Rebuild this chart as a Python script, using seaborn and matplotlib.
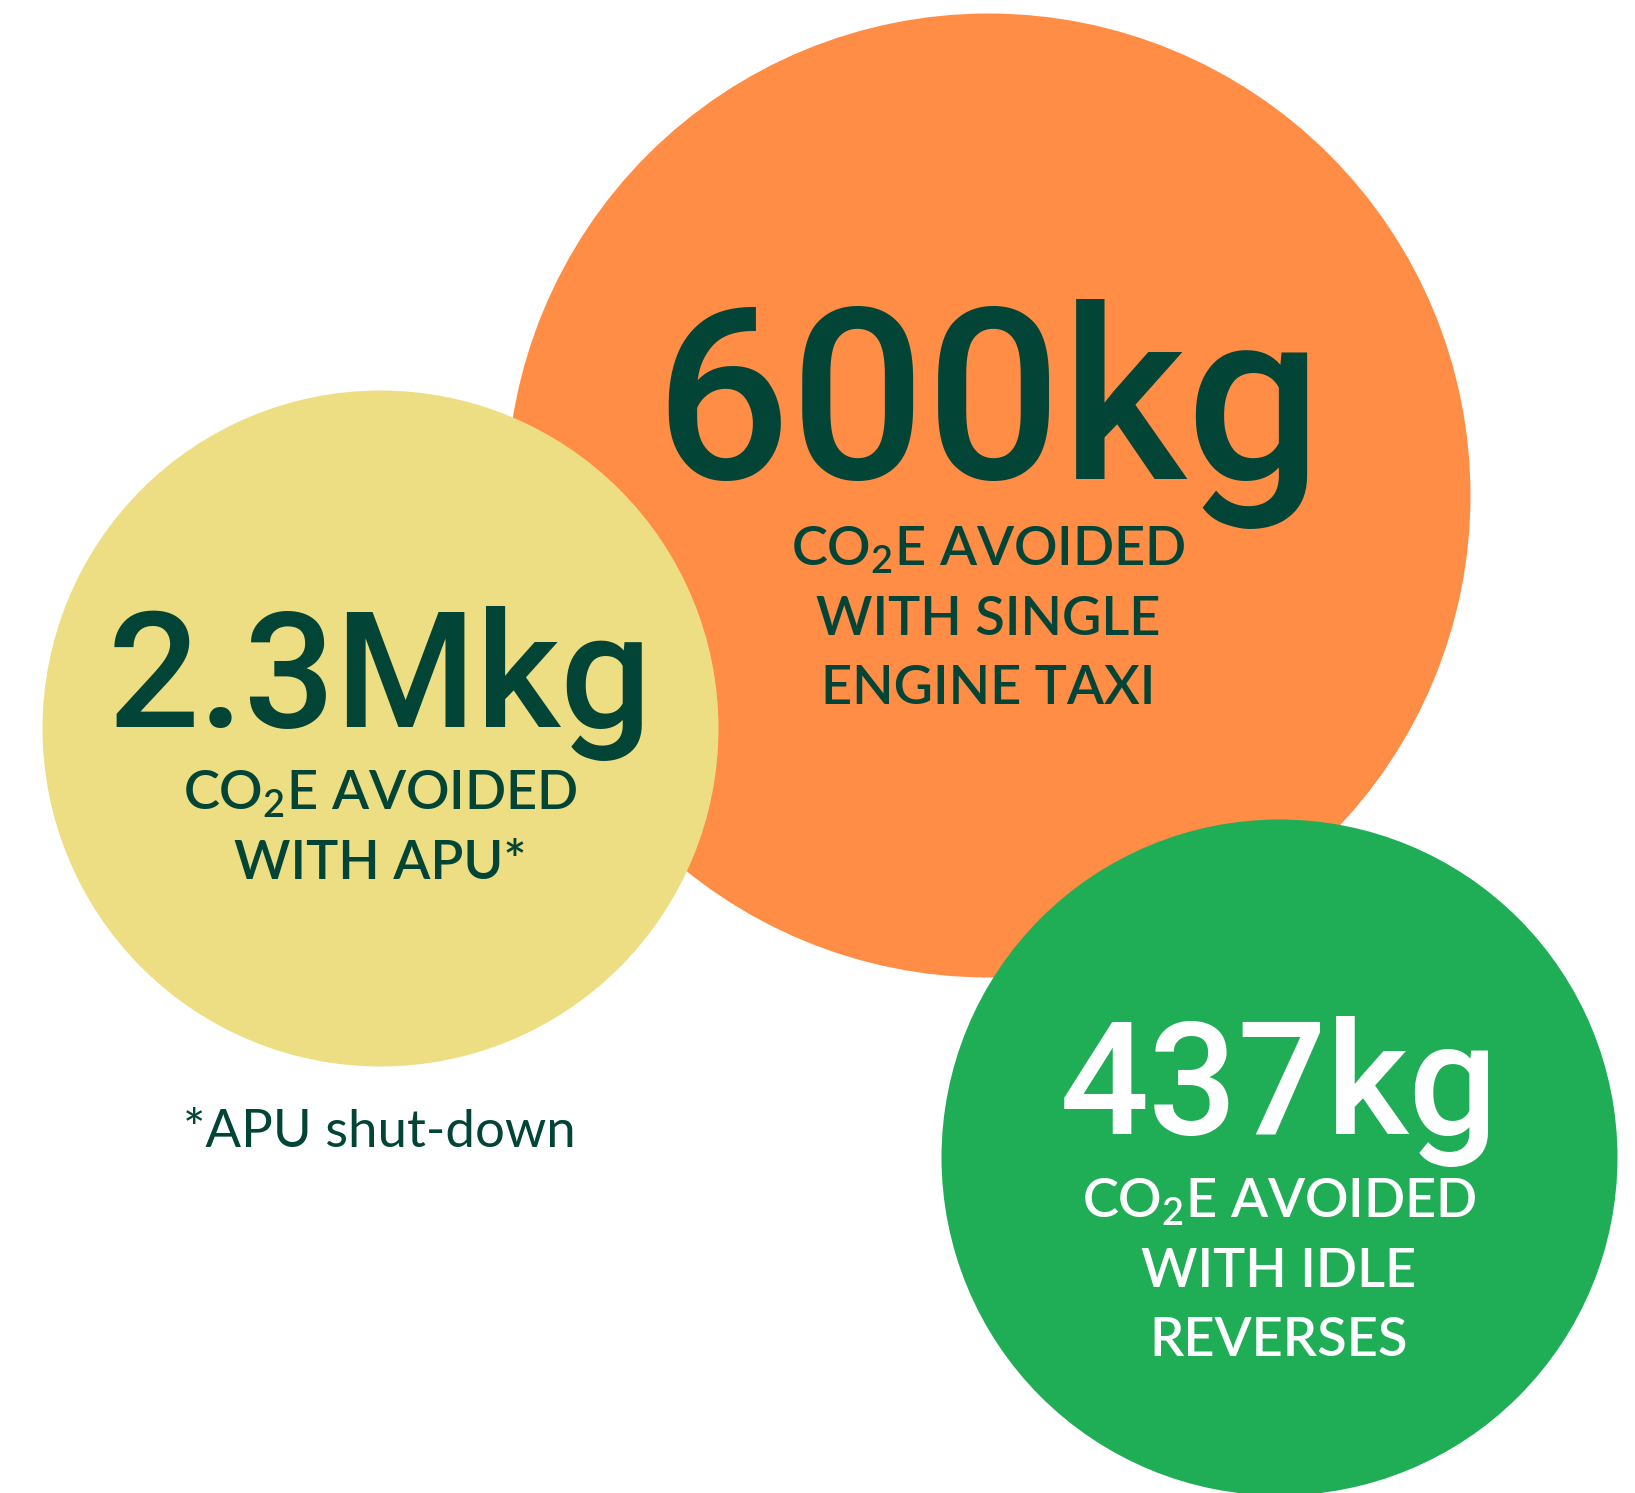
import matplotlib
matplotlib.use("Agg")
import matplotlib.pyplot as plt
import seaborn as sns
import pandas as pd

# Data
metrics = ["Single engine taxi", "APU shut-down", "Idle reverses"]
amounts = ["600kg", "2.3Mkg", "437kg"]
captions = [
    ["CO$_2$E AVOIDED", "WITH SINGLE", "ENGINE TAXI"],
    ["CO$_2$E AVOIDED", "WITH APU*"],
    ["CO$_2$E AVOIDED", "WITH IDLE", "REVERSES"],
]
footnote = "*APU shut-down"

# Layout (pixel coords) and styles
centers_x = [988, 380, 1279]
centers_y = [495, 728, 1157]
radii = [482, 338, 338]
fills = ["#FF8D45", "#EEDE83", "#1FAD56"]
text_colors = ["#024536", "#024536", "#FFFFFF"]
amount_sizes = [172, 116, 113]
amount_baselines = [479, 727, 1134]
caption_baselines = [566, 810, 1218]
line_gap = 69

sns.set_theme(style="white")
plt.rcParams["font.family"] = ["Lato", "DejaVu Sans"]
plt.rcParams["mathtext.default"] = "regular"

W, H = 1635, 1493
fig = plt.figure(figsize=(W / 100, H / 100), dpi=100)
ax = fig.add_axes([0, 0, 1, 1])

df = pd.DataFrame({"metric": metrics, "x": centers_x, "y": centers_y, "r": radii})

# circles: scatter marker diameter in points = 2r px * 72/100
for i, row in df.iterrows():
    sns.scatterplot(x=[row["x"]], y=[row["y"]], s=(2 * row["r"] * 0.72) ** 2,
                    color=fills[i], linewidth=0, ax=ax, zorder=1 + i, legend=False)

for i in range(len(metrics)):
    ax.text(centers_x[i], amount_baselines[i], amounts[i], ha="center", va="baseline",
            fontsize=amount_sizes[i], fontweight="medium", color=text_colors[i],
            family=["Roboto", "DejaVu Sans"], zorder=10)
    for j, line in enumerate(captions[i]):
        ax.text(centers_x[i], caption_baselines[i] + j * line_gap, line, ha="center",
                va="baseline", fontsize=39, fontweight="semibold",
                color=text_colors[i], zorder=10)

ax.text(379, 1147, footnote, ha="center", va="baseline", fontsize=38,
        color="#024536", zorder=10)

ax.set_xlim(0, W)
ax.set_ylim(H, 0)
ax.axis("off")

fig.savefig("out.png", dpi=100, facecolor="white")
